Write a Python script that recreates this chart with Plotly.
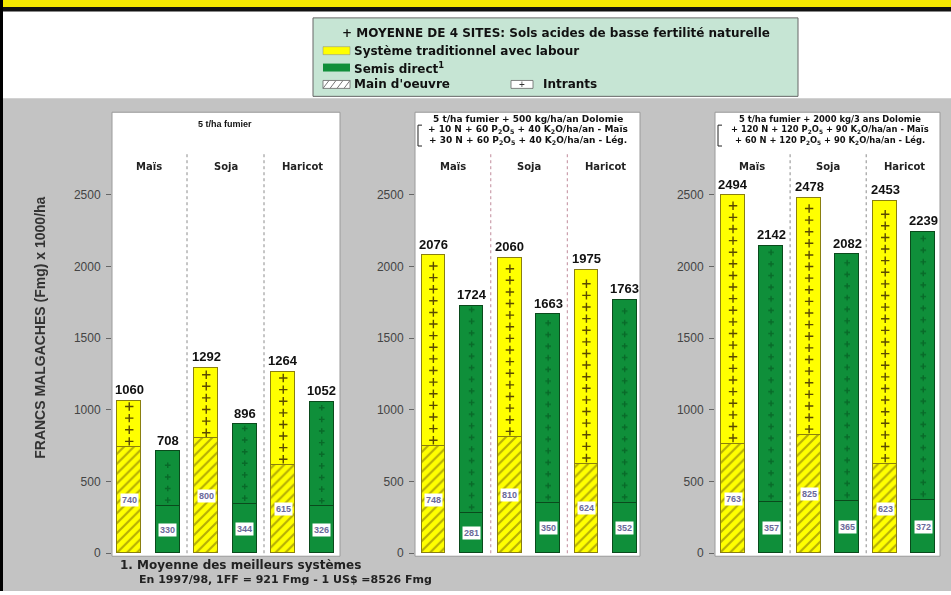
import plotly.graph_objects as go

W, H = 951, 595
FONT = "Liberation Sans, Arial, sans-serif"
WIDE = "DejaVu Sans, Verdana, sans-serif"

# ---------------- data ----------------
crops = ["Maïs", "Soja", "Haricot"]
panel_titles = [
    ["5 t/ha fumier"],
    ["5 t/ha fumier + 500 kg/ha/an Dolomie",
     "+ 10 N + 60 P<sub>2</sub>O<sub>5</sub> + 40 K<sub>2</sub>O/ha/an - Maïs",
     "+ 30 N + 60 P<sub>2</sub>O<sub>5</sub> + 40 K<sub>2</sub>O/ha/an - Lég."],
    ["5 t/ha fumier + 2000 kg/3 ans Dolomie",
     "+ 120 N + 120 P<sub>2</sub>O<sub>5</sub> + 90 K<sub>2</sub>O/ha/an - Maïs",
     "+ 60 N + 120 P<sub>2</sub>O<sub>5</sub> + 90 K<sub>2</sub>O/ha/an - Lég."],
]
trad_total_p1 = [1060, 1292, 1264]
trad_total_p2 = [2076, 2060, 1975]
trad_total_p3 = [2494, 2478, 2453]
trad_labor_p1 = [740, 800, 615]
trad_labor_p2 = [748, 810, 624]
trad_labor_p3 = [763, 825, 623]
sd_total_p1 = [708, 896, 1052]
sd_total_p2 = [1724, 1663, 1763]
sd_total_p3 = [2142, 2082, 2239]
sd_labor_p1 = [330, 344, 326]
sd_labor_p2 = [281, 350, 352]
sd_labor_p3 = [357, 365, 372]
y_ticks = [0, 500, 1000, 1500, 2000, 2500]

trad_total = [trad_total_p1, trad_total_p2, trad_total_p3]
trad_labor = [trad_labor_p1, trad_labor_p2, trad_labor_p3]
sd_total = [sd_total_p1, sd_total_p2, sd_total_p3]
sd_labor = [sd_labor_p1, sd_labor_p2, sd_labor_p3]

# ---------------- style ----------------
YELLOW = "#ffff00"
GREEN = "#0f8f3a"
GRAY_BG = "#c3c3c3"
LEGEND_BG = "#c6e5d4"

def px(x):
    return x / W

def py(y):
    return 1 - y / H

panel_px = [(112, 340), (415, 640), (715, 940)]
x_ranges = [[-0.474, 2.487], [-0.49, 2.45], [-0.487, 2.47]]
y_dom = [py(560), py(113)]
y_range = [-21, 3075]
sep_colors = ["#8c8c8c", "#c08a9a", "#8c8c8c"]
header_sizes = [9, 9, 8.4]

fig = go.Figure()
shapes = []
annotations = []

def pnote(x, y, text, size=11, color="#111", xanchor="center", yanchor="middle", family=FONT, **kw):
    annotations.append(dict(xref="paper", yref="paper", x=px(x), y=py(y), text=text, showarrow=False,
                            xanchor=xanchor, yanchor=yanchor,
                            font=dict(family=family, size=size, color=color), **kw))

# background
shapes.append(dict(type="rect", xref="paper", yref="paper", x0=px(3), x1=1, y0=0, y1=py(99),
                   fillcolor=GRAY_BG, line=dict(width=0), layer="below"))
for (a, b) in panel_px:
    shapes.append(dict(type="rect", xref="paper", yref="paper", x0=px(a), x1=px(b), y0=y_dom[0], y1=y_dom[1],
                       fillcolor="white", line=dict(color="#9a9a9a", width=1), layer="below"))
# top band + border
shapes.append(dict(type="rect", xref="paper", yref="paper", x0=0, x1=1, y0=py(7), y1=1,
                   fillcolor="#f4e800", line=dict(width=0)))
shapes.append(dict(type="rect", xref="paper", yref="paper", x0=0, x1=1, y0=py(11.5), y1=py(7),
                   fillcolor="#111111", line=dict(width=0)))
shapes.append(dict(type="rect", xref="paper", yref="paper", x0=0, x1=px(3), y0=0, y1=1,
                   fillcolor="#000000", line=dict(width=0)))

for p in range(3):
    sfx = "" if p == 0 else str(p + 1)
    xa, ya = "x" + sfx, "y" + sfx
    xs_t = [i - 0.25 for i in range(3)]
    xs_s = [i + 0.25 for i in range(3)]
    t_in = [t - l for t, l in zip(trad_total[p], trad_labor[p])]
    s_in = [t - l for t, l in zip(sd_total[p], sd_labor[p])]
    common = dict(xaxis=xa, yaxis=ya, width=0.31, showlegend=False, hoverinfo="skip")
    fig.add_trace(go.Bar(x=xs_t, y=trad_labor[p], marker=dict(
        color=YELLOW, line=dict(color="#8a7f10", width=1),
        pattern=dict(shape="/", fgcolor="#6a5c0c", bgcolor=YELLOW, size=7, solidity=0.3)), **common))
    fig.add_trace(go.Bar(x=xs_t, y=t_in, marker=dict(color=YELLOW, line=dict(color="#8a7f10", width=1)), **common))
    fig.add_trace(go.Bar(x=xs_s, y=sd_labor[p], marker=dict(color=GREEN, line=dict(color="#0a4a1c", width=1)), **common))
    fig.add_trace(go.Bar(x=xs_s, y=s_in, marker=dict(color=GREEN, line=dict(color="#0a4a1c", width=1)), **common))

    # "+" marks for intrants
    for xs, lab, tot, col, op, sz in [(xs_t, trad_labor[p], trad_total[p], "#5a4a00", 1.0, 6),
                                      (xs_s, sd_labor[p], sd_total[p], "#06521f", 0.6, 4)]:
        mx, my = [], []
        for x, l, t in zip(xs, lab, tot):
            v = l + 40
            while v < t - 25:
                mx.append(x)
                my.append(v)
                v += 81
        fig.add_trace(go.Scatter(x=mx, y=my, mode="markers", xaxis=xa, yaxis=ya, showlegend=False,
                                 hoverinfo="skip", opacity=op,
                                 marker=dict(symbol="cross-thin", size=sz, line=dict(color=col, width=1.4))))

    # separators
    for sx in (0.5, 1.5):
        shapes.append(dict(type="line", xref=xa, yref=ya, x0=sx, x1=sx, y0=0, y1=2790,
                           line=dict(color=sep_colors[p], width=1, dash="dot")))

    # axes
    dom = [px(panel_px[p][0]), px(panel_px[p][1])]
    fig.layout["xaxis" + sfx] = dict(domain=dom, range=x_ranges[p], showgrid=False, zeroline=False,
                                    showticklabels=False, showline=False, fixedrange=True,
                                    anchor=ya)
    fig.layout["yaxis" + sfx] = dict(domain=y_dom, range=y_range, showgrid=False, zeroline=False,
                                    tickvals=y_ticks, ticks="outside", ticklen=5, tickcolor="#666",
                                    tickfont=dict(family=FONT, size=12, color="#444"),
                                    ticklabelstandoff=3, showline=False, anchor=xa)

    # crop names
    for i, c in enumerate(crops):
        annotations.append(dict(xref=xa, yref=ya, x=i, y=2694, text="<b>%s</b>" % c, showarrow=False,
                                xanchor="center", yanchor="middle",
                                font=dict(family=WIDE, size=10, color="#222")))
    # headers
    ys = [2992] if p == 0 else [3030, 2952, 2876]
    for t, yv in zip(panel_titles[p], ys):
        annotations.append(dict(xref=xa, yref=ya, x=1.03 if p == 2 else 0.99, y=yv, text="<b>%s</b>" % t,
                                showarrow=False, xanchor="center", yanchor="middle",
                                font=dict(family=FONT if p == 0 else WIDE, size=header_sizes[p],
                                          color="#111")))
    if p > 0:
        bx = panel_px[p][0] + 3
        shapes.append(dict(type="path", xref="paper", yref="paper",
                           path="M %f %f L %f %f L %f %f L %f %f" % (px(bx + 4), py(126), px(bx), py(126),
                                                                      px(bx), py(147), px(bx + 4), py(147)),
                           line=dict(color="#222", width=1)))

    # totals & labor labels
    for xs, lab, tot in [(xs_t, trad_labor[p], trad_total[p]), (xs_s, sd_labor[p], sd_total[p])]:
        for x, l, t in zip(xs, lab, tot):
            annotations.append(dict(xref=xa, yref=ya, x=x, y=t, yshift=2, text="<b>%d</b>" % t,
                                    xanchor="center", yanchor="bottom",
                                    showarrow=False, font=dict(family=FONT, size=13, color="#111")))
            annotations.append(dict(xref=xa, yref=ya, x=x, y=l / 2, text="<b>%d</b>" % l, showarrow=False,
                                    xanchor="center", yanchor="middle",
                                    bgcolor="white", borderpad=1,
                                    font=dict(family=FONT, size=9, color="#6a6a9a")))

# y-axis title
pnote(40, 330, "<b>FRANCS MALGACHES (Fmg) x 1000/ha</b>", size=14, color="#333", textangle=-90)

# footnote
pnote(118, 569, "<b>1. Moyenne des meilleurs systèmes</b>", size=12, color="#222", xanchor="left", family=WIDE)
pnote(137, 583, "<b>En 1997/98, 1FF = 921 Fmg - 1 US$ =8526 Fmg</b>", size=11, color="#222",
      xanchor="left", family=WIDE)

# legend box
shapes.append(dict(type="rect", xref="paper", yref="paper", x0=px(313), x1=px(798), y0=py(97), y1=py(18),
                   fillcolor=LEGEND_BG, line=dict(color="#666", width=1)))
shapes.append(dict(type="rect", xref="paper", yref="paper", x0=px(323), x1=px(350), y0=py(55), y1=py(47),
                   fillcolor=YELLOW, line=dict(color="#888", width=0.5)))
shapes.append(dict(type="rect", xref="paper", yref="paper", x0=px(323), x1=px(350), y0=py(72), y1=py(64),
                   fillcolor=GREEN, line=dict(width=0)))
shapes.append(dict(type="rect", xref="paper", yref="paper", x0=px(323), x1=px(350), y0=py(89), y1=py(81),
                   fillcolor="white", line=dict(color="#666", width=0.8)))
for k in range(4):
    x0 = 323 + k * 7
    shapes.append(dict(type="line", xref="paper", yref="paper", x0=px(x0), x1=px(x0 + 6), y0=py(89), y1=py(81),
                       line=dict(color="#777", width=1)))
shapes.append(dict(type="rect", xref="paper", yref="paper", x0=px(511), x1=px(533), y0=py(89), y1=py(81),
                   fillcolor="white", line=dict(color="#666", width=0.8)))
pnote(522, 85, "+", size=10, color="#333")
pnote(340, 33, "<b>+ MOYENNE DE 4 SITES: Sols acides de basse fertilité naturelle</b>", size=12,
      xanchor="left", family=WIDE)
pnote(352, 51, "<b>Système traditionnel avec labour</b>", size=12, xanchor="left", family=WIDE)
pnote(352, 68, "<b>Semis direct<sup>1</sup></b>", size=12, xanchor="left", family=WIDE)
pnote(352, 85, "<b>Main d'oeuvre</b>", size=12, xanchor="left", family=WIDE)
pnote(541, 85, "<b>Intrants</b>", size=12, xanchor="left", family=WIDE)

fig.update_layout(width=W, height=H, autosize=False, margin=dict(l=0, r=0, t=0, b=0),
                  paper_bgcolor="white", plot_bgcolor="rgba(0,0,0,0)", barmode="stack", bargap=0,
                  shapes=shapes, annotations=annotations, showlegend=False,
                  font=dict(family=FONT))

fig.write_html("out.html", config={"displayModeBar": False},
               post_script="document.body.style.margin='0';document.body.style.padding='0';")
